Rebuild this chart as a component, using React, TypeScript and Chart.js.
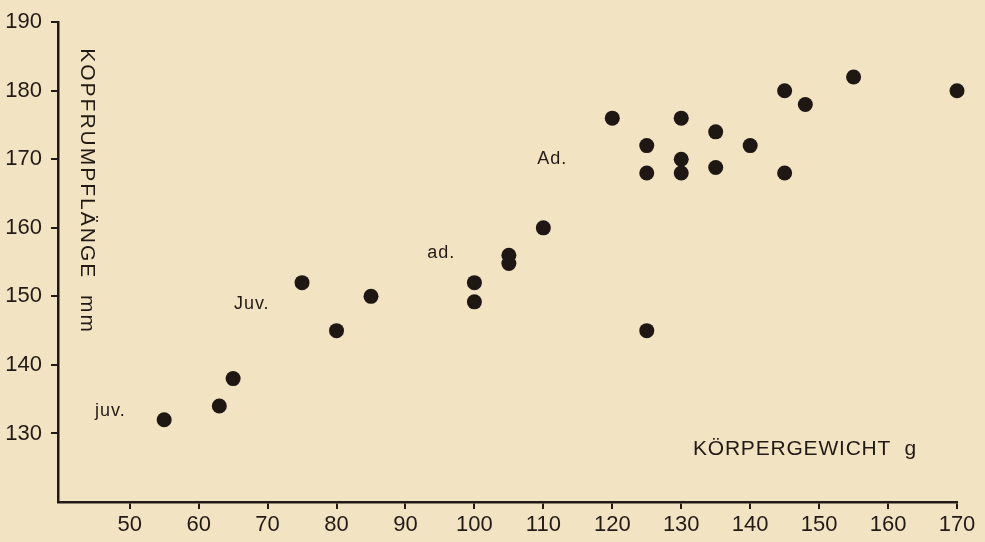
import React, { useEffect, useRef } from "react";
import { Chart, registerables } from "chart.js";

Chart.register(...registerables);

// Körpergewicht (g)
const weights = [55, 63, 65, 75, 80, 85, 100, 100, 105, 105, 110, 125, 120, 125, 125, 130, 130, 130, 135, 135, 140, 145, 145, 148, 155, 170];
// Kopfrumpflänge (mm)
const lengths = [132, 134, 138, 152, 145, 150, 152, 149.2, 156, 154.8, 160, 145, 176, 172, 168, 176, 170, 168, 174, 168.8, 172, 180, 168, 178, 182, 180];

const xTicks = [50, 60, 70, 80, 90, 100, 110, 120, 130, 140, 150, 160, 170];
const yTicks = [130, 140, 150, 160, 170, 180, 190];

const groupLabels = ["juv.", "Juv.", "ad.", "Ad."];
const groupLabelX = [47.2, 67.7, 95.2, 111.3];
const groupLabelY = [133.3, 148.9, 156.3, 170.1];

const xTitle = "KÖRPERGEWICHT  g";
const yTitle = "KOPFRUMPFLÄNGE  mm";

const INK = "#231a16";
const BG = "#f2e3c2";
const FONT = "'Liberation Sans', Arial, sans-serif";

export default function App() {
  const ref = useRef<HTMLCanvasElement | null>(null);

  useEffect(() => {
    if (!ref.current) return;
    const textPlugin = {
      id: "texts",
      beforeDraw(chart: any) {
        const ctx = chart.ctx;
        ctx.save();
        ctx.fillStyle = BG;
        ctx.fillRect(0, 0, chart.width, chart.height);
        ctx.restore();
      },
      afterDatasetsDraw(chart: any) {
        const ctx = chart.ctx;
        const xs = chart.scales.x;
        const ys = chart.scales.y;
        ctx.save();
        ctx.fillStyle = INK;
        ctx.textAlign = "center";
        ctx.textBaseline = "middle";
        ctx.font = `18px ${FONT}`;
        (ctx as any).letterSpacing = "1px";
        groupLabels.forEach((t, i) => {
          ctx.fillText(t, xs.getPixelForValue(groupLabelX[i]), ys.getPixelForValue(groupLabelY[i]));
        });
        // x title
        ctx.font = `21px ${FONT}`;
        (ctx as any).letterSpacing = "0.8px";
        ctx.textAlign = "left";
        ctx.fillText(xTitle, xs.getPixelForValue(131.7), ys.getPixelForValue(127.7));
        // y title rotated clockwise
        ctx.translate(xs.getPixelForValue(43.8), ys.getPixelForValue(186.2));
        ctx.rotate(Math.PI / 2);
        (ctx as any).letterSpacing = "2px";
        ctx.fillText(yTitle, 0, 0);
        ctx.restore();
      },
    };

    const chart = new Chart(ref.current, {
      type: "scatter",
      data: {
        datasets: [
          {
            data: weights.map((w, i) => ({ x: w, y: lengths[i] })),
            backgroundColor: "#1f1714",
            borderWidth: 0,
            pointRadius: 7.5,
            pointHoverRadius: 7.5,
            clip: false,
          },
        ],
      },
      options: {
        animation: false,
        responsive: false,
        maintainAspectRatio: false,
        layout: { padding: { top: 16, right: 28, left: 0, bottom: 0 } },
        plugins: { legend: { display: false }, tooltip: { enabled: false } },
        scales: {
          x: {
            type: "linear",
            min: 39.6,
            max: 170,
            afterBuildTicks: (s: any) => {
              s.ticks = xTicks.map((v) => ({ value: v }));
            },
            afterFit: (s: any) => {
              s.height = 40;
            },
            border: { display: true, color: INK, width: 2.5 },
            grid: { display: true, drawOnChartArea: false, drawTicks: true, tickLength: 7, color: INK, lineWidth: 2 },
            ticks: { color: INK, padding: 3, font: { family: FONT, size: 22 }, maxRotation: 0, autoSkip: false },
          },
          y: {
            type: "linear",
            min: 120,
            max: 190,
            afterBuildTicks: (s: any) => {
              s.ticks = yTicks.map((v) => ({ value: v }));
            },
            afterFit: (s: any) => {
              s.width = 58;
            },
            border: { display: true, color: INK, width: 2.5 },
            grid: { display: true, drawOnChartArea: false, drawTicks: true, tickLength: 7, color: INK, lineWidth: 2 },
            ticks: { color: INK, padding: 9, font: { family: FONT, size: 22 }, autoSkip: false },
          },
        },
      },
      plugins: [textPlugin],
    });
    return () => chart.destroy();
  }, []);

  return (
    <div style={{ position: "fixed", left: 0, top: 0, width: 985, height: 542, background: BG }}>
      <canvas ref={ref} width={985} height={542} style={{ width: 985, height: 542, display: "block" }} />
    </div>
  );
}
